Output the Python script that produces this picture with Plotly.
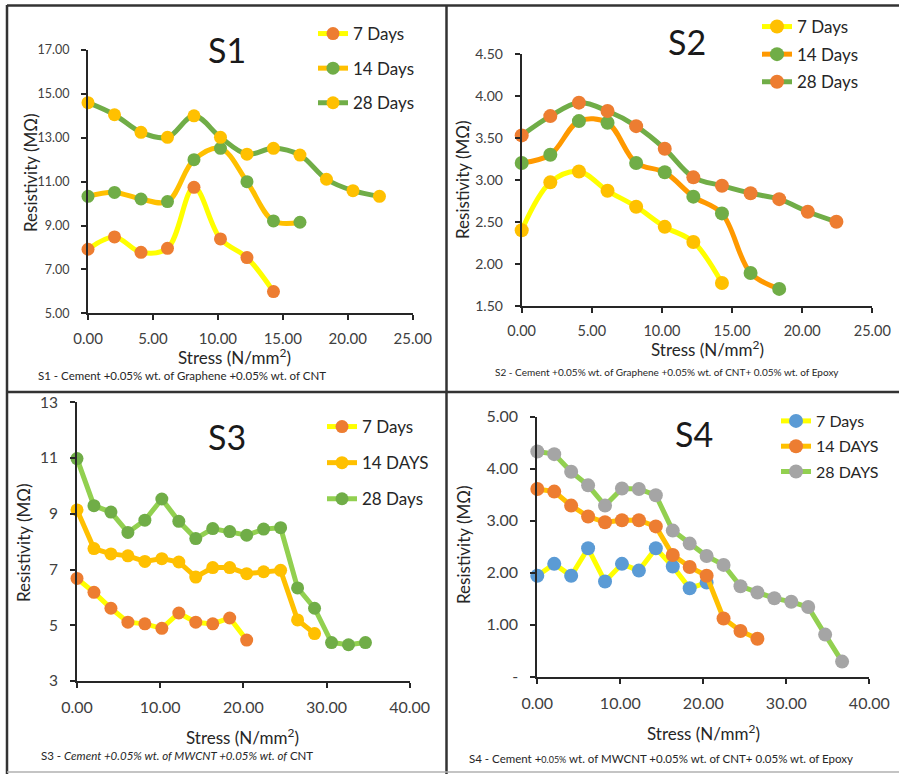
import plotly.graph_objects as go

W, H = 899, 774
FONT = "Lato"

# ---------------- data ----------------
stress = [0.00, 2.04, 4.08, 6.12, 8.16, 10.20, 12.24, 14.28, 16.32, 18.36,
          20.40, 22.44, 24.48, 26.52, 28.56, 30.60, 32.64, 34.68, 36.72]

s1_names = ["7 Days", "14 Days", "28 Days"]
s1_7 = [7.92, 8.48, 7.78, 7.96, 10.74, 8.39, 7.54, 5.99]
s1_14 = [10.33, 10.51, 10.21, 10.09, 12.00, 12.52, 11.00, 9.21, 9.15]
s1_28 = [14.60, 14.05, 13.25, 13.02, 14.00, 13.02, 12.25, 12.52, 12.21, 11.11, 10.59, 10.33]

s2_names = ["7 Days", "14 Days", "28 Days"]
s2_7 = [2.40, 2.97, 3.10, 2.87, 2.68, 2.44, 2.26, 1.77]
s2_14 = [3.20, 3.30, 3.70, 3.68, 3.20, 3.09, 2.80, 2.60, 1.89, 1.70]
s2_28 = [3.53, 3.76, 3.92, 3.82, 3.64, 3.37, 3.03, 2.93, 2.84, 2.77, 2.62, 2.50]

s3_names = ["7 Days", "14 DAYS", "28 Days"]
s3_7 = [6.68, 6.18, 5.61, 5.11, 5.05, 4.89, 5.44, 5.11, 5.05, 5.26, 4.47]
s3_14 = [9.14, 7.75, 7.56, 7.49, 7.29, 7.39, 7.27, 6.73, 7.07, 7.07, 6.85, 6.92, 6.97, 5.19, 4.70]
s3_28 = [10.98, 9.29, 9.06, 8.33, 8.77, 9.53, 8.73, 8.11, 8.47, 8.36, 8.23, 8.45, 8.50,
         6.34, 5.61, 4.38, 4.30, 4.38]

s4_names = ["7 Days", "14 DAYS", "28 DAYS"]
s4_7 = [1.94, 2.17, 1.94, 2.47, 1.83, 2.17, 2.04, 2.47, 2.12, 1.70, 1.81]
s4_14 = [3.61, 3.56, 3.29, 3.08, 2.97, 3.01, 3.01, 2.89, 2.34, 2.11, 1.94, 1.12, 0.88, 0.73]
s4_28 = [4.33, 4.28, 3.94, 3.68, 3.29, 3.62, 3.61, 3.49, 2.81, 2.56, 2.32, 2.15, 1.74,
         1.62, 1.51, 1.44, 1.34, 0.81, 0.29]

s4_ytickvals = [0, 1, 2, 3, 4, 5]
s4_yticktext = ["-", "1.00", "2.00", "3.00", "4.00", "5.00"]

titles = ["S1", "S2", "S3", "S4"]
captions = [
    "S1 - Cement +0.05% wt. of Graphene +0.05% wt. of CNT",
    "S2 - Cement +0.05% wt. of Graphene +0.05% wt. of CNT+ 0.05% wt. of Epoxy",
    "S3 - <i>Cement +0.05% wt. of MWCNT +0.05% wt. of</i> CNT",
    "S4 - Cement +<span style='font-size:9px'>0.05%</span> wt. of MWCNT +0.05% wt. of CNT+ 0.05% wt. of Epoxy",
]

# ---------------- styles ----------------
YEL, GOLD, ORG, GRN, LGRN, ORL, BLU, GRY = ("#FFFF00", "#FFC000", "#ED7D31", "#70AD47",
                                            "#92D050", "#FF9900", "#5B9BD5", "#A5A5A5")

panels = [
    dict(series=[s1_7, s1_14, s1_28], names=s1_names,
         lines=[YEL, GOLD, GRN], marks=[ORG, GRN, GOLD], shape="spline",
         xpx=(88, 412.7), ypx=(50, 313.3), xr=[0, 25], xd=5, yr=[5, 17], yd=2, yfmt=".2f",
         yfs=12.5, xfs=15, leg=(355, 16), legfs=17, gap=9.5, msize=13,
         title=(227, 50), ytitle=(30, 173), xtitle=(235, 356), cap=(36, 375), capfs=11.5),
    dict(series=[s2_7, s2_14, s2_28], names=s2_names,
         lines=[YEL, ORL, GRN], marks=[GOLD, GRN, ORG], shape="spline",
         xpx=(521.7, 872.3), ypx=(54, 305.7), xr=[0, 25], xd=5, yr=[1.5, 4.5], yd=0.5, yfmt=".2f",
         yfs=14, xfs=14.5, leg=(799, 9), legfs=17, gap=2.5, msize=14,
         title=(687, 42), ytitle=(463, 180), xtitle=(707, 348), cap=(493, 372), capfs=10),
    dict(series=[s3_7, s3_14, s3_28], names=s3_names,
         lines=[YEL, GOLD, LGRN], marks=[ORG, GOLD, GRN], shape="linear",
         xpx=(77, 409.7), ypx=(402.3, 681), xr=[0, 40], xd=10, yr=[3, 13], yd=2, yfmt="d",
         yfs=15.5, xfs=16, leg=(364, 409), legfs=17, gap=11, msize=13,
         title=(227, 436), ytitle=(23, 543), xtitle=(243, 736), cap=(39, 755), capfs=11.5),
    dict(series=[s4_7, s4_14, s4_28], names=s4_names,
         lines=[YEL, GOLD, LGRN], marks=[BLU, ORG, GRY], shape="linear",
         xpx=(537.3, 869.3), ypx=(416.7, 676.7), xr=[0, 40], xd=10, yr=[0, 5], yd=1, yfmt=".2f",
         yfs=16, xfs=16, leg=(818, 404), legfs=16, gap=1.5, msize=14,
         title=(694, 434), ytitle=(463, 545), xtitle=(703, 732), cap=(467, 758), capfs=11.5),
]

AX = "#262626"
TXT = "#404040"

def px(x):
    return x / W

def py(y):
    return 1 - y / H

fig = go.Figure()
layout = dict(width=W, height=H, margin=dict(l=0, r=0, t=0, b=0, autoexpand=False),
              paper_bgcolor="white", plot_bgcolor="rgba(0,0,0,0)",
              font=dict(family=FONT, color=TXT), showlegend=True)
annotations = []

for i, p in enumerate(panels, start=1):
    xa = "x" if i == 1 else f"x{i}"
    ya = "y" if i == 1 else f"y{i}"
    xk = "xaxis" if i == 1 else f"xaxis{i}"
    yk = "yaxis" if i == 1 else f"yaxis{i}"
    lg = "legend" if i == 1 else f"legend{i}"
    for j, (vals, nm) in enumerate(zip(p["series"], p["names"])):
        fig.add_trace(go.Scatter(
            x=stress[:len(vals)], y=vals, name=nm, mode="lines+markers",
            line=dict(color=p["lines"][j], width=5, shape=p["shape"], smoothing=1.0),
            marker=dict(color=p["marks"][j], size=p["msize"]),
            xaxis=xa, yaxis=ya, legend=lg, legendgroup=f"p{i}s{j}",
            cliponaxis=False, hoverinfo="x+y+name"))
    xdom = [px(p["xpx"][0]), px(p["xpx"][1])]
    ydom = [py(p["ypx"][1]), py(p["ypx"][0])]
    common = dict(showline=True, linecolor=AX, linewidth=2, showgrid=False, zeroline=False,
                  ticks="outside", ticklen=5, tickwidth=2, tickcolor=AX)
    layout[xk] = dict(domain=xdom, range=p["xr"], dtick=p["xd"], tick0=0, tickformat=".2f",
                      anchor=ya, tickfont=dict(size=p["xfs"], color=TXT, family=FONT),
                      ticklabelstandoff=6, **common)
    ydict = dict(domain=ydom, range=p["yr"], anchor=xa,
                 tickfont=dict(size=p["yfs"], color=TXT, family=FONT),
                 ticklabelstandoff=9, **common)
    if i == 4:
        ydict.update(tickvals=s4_ytickvals, ticktext=s4_yticktext)
    else:
        ydict.update(dtick=p["yd"], tick0=p["yr"][0], tickformat=p["yfmt"])
    layout[yk] = ydict
    # overlay axes giving the inner half of the cross tick marks
    ox = f"xaxis{i + 4}"
    oy = f"yaxis{i + 4}"
    layout[ox] = dict(overlaying=xa, anchor=ya, range=p["xr"], dtick=p["xd"], tick0=0,
                      ticks="inside", ticklen=5, tickwidth=2, tickcolor=AX, showline=False,
                      showgrid=False, zeroline=False, showticklabels=False, side="bottom")
    oyd = dict(overlaying=ya, anchor=xa, range=p["yr"], ticks="inside", ticklen=5, tickwidth=2,
               tickcolor=AX, showline=False, showgrid=False, zeroline=False,
               showticklabels=False, side="left")
    if i == 4:
        oyd.update(tickvals=s4_ytickvals)
    else:
        oyd.update(dtick=p["yd"], tick0=p["yr"][0])
    layout[oy] = oyd
    # legend
    layout[lg] = dict(x=px(p["leg"][0] - 42), y=py(p["leg"][1]), xanchor="left", yanchor="top",
                      bgcolor="rgba(0,0,0,0)", borderwidth=0, tracegroupgap=p["gap"],
                      font=dict(size=p["legfs"], color="#262626", family=FONT),
                      itemsizing="trace")
    # title, axis titles, caption
    cen = dict(xref="paper", yref="paper", showarrow=False, xanchor="center", yanchor="middle")
    annotations.append(dict(text=titles[i - 1], x=px(p["title"][0]), y=py(p["title"][1]),
                            font=dict(size=34, color="#1a1a1a", family=FONT), **cen))
    annotations.append(dict(text="Resistivity (MΩ)", x=px(p["ytitle"][0]), y=py(p["ytitle"][1]),
                            textangle=-90, font=dict(size=17, color="#262626", family=FONT),
                            **cen))
    annotations.append(dict(text="Stress (N/mm<sup>2</sup>)", x=px(p["xtitle"][0]),
                            y=py(p["xtitle"][1]),
                            font=dict(size=17, color="#262626", family=FONT), **cen))
    annotations.append(dict(text=captions[i - 1], x=px(p["cap"][0]), y=py(p["cap"][1]),
                            xref="paper", yref="paper", showarrow=False, xanchor="left",
                            yanchor="middle",
                            font=dict(size=p["capfs"], color="#262626", family=FONT)))

# panel frame
B = "#333333"
shapes = [
    dict(type="line", xref="paper", yref="paper", x0=px(7), x1=1, y0=py(5.5), y1=py(5.5),
         line=dict(color=B, width=2.5)),
    dict(type="line", xref="paper", yref="paper", x0=px(7), x1=px(7), y0=py(5), y1=0,
         line=dict(color=B, width=2.5)),
    dict(type="line", xref="paper", yref="paper", x0=px(446.5), x1=px(446.5), y0=py(5), y1=0,
         line=dict(color=B, width=2.5)),
    dict(type="line", xref="paper", yref="paper", x0=px(7), x1=1, y0=py(392), y1=py(392),
         line=dict(color=B, width=2.5)),
    dict(type="line", xref="paper", yref="paper", x0=px(7), x1=1, y0=py(772), y1=py(772),
         line=dict(color="#b0b0b0", width=1.5)),
]
layout["shapes"] = shapes
layout["annotations"] = annotations
fig.update_layout(**layout)
fig.write_html("out.html")
